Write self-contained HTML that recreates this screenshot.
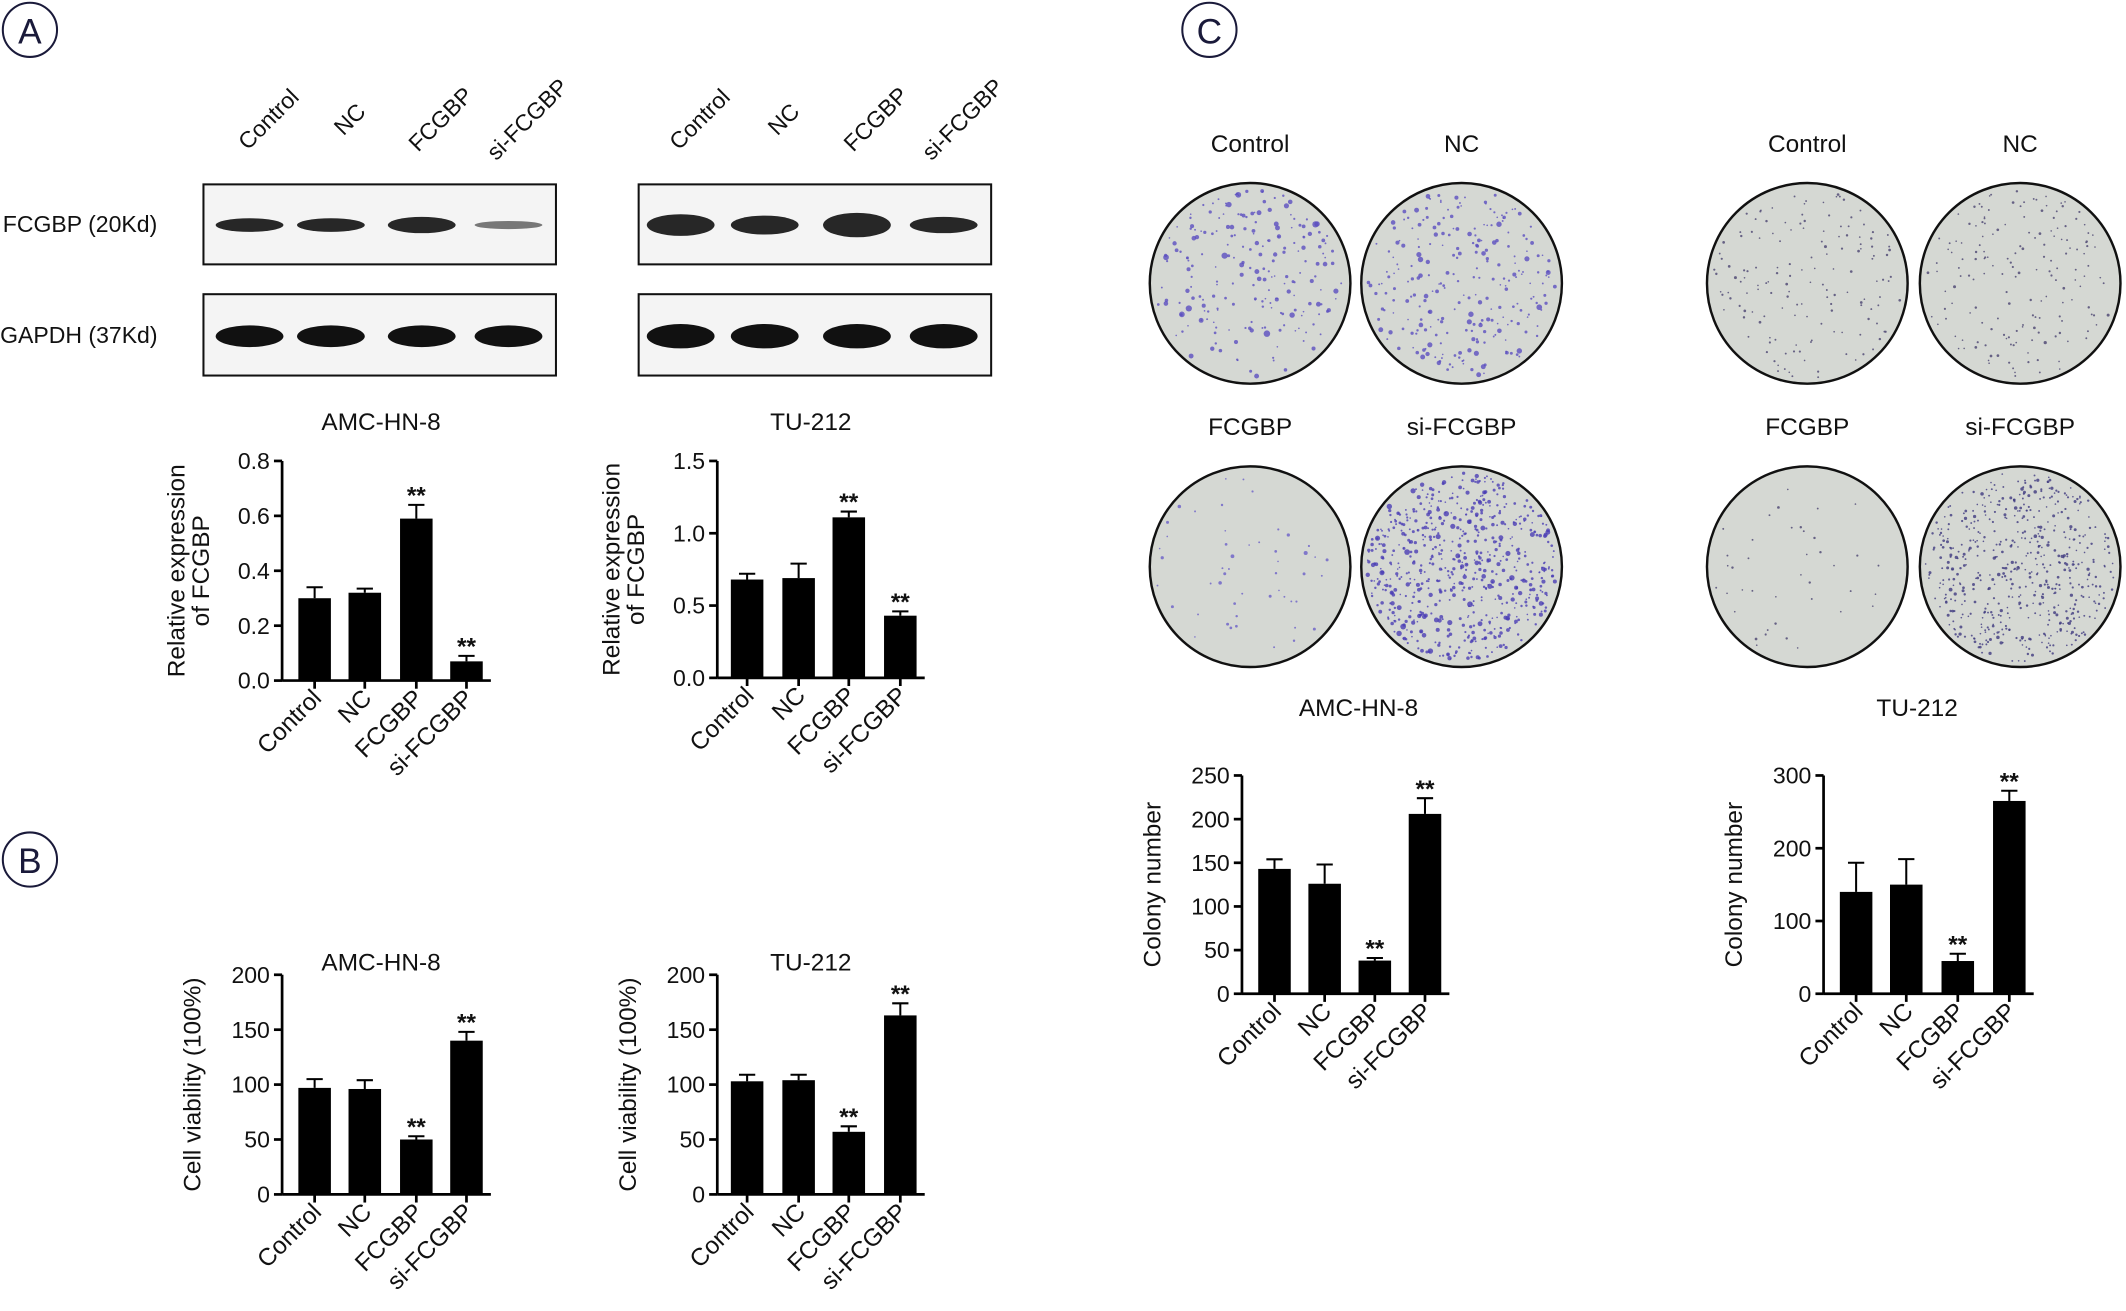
<!DOCTYPE html>
<html><head><meta charset="utf-8"><style>
html,body{margin:0;padding:0;background:#fff;}
svg{display:block;font-family:"Liberation Sans",Arial,sans-serif;}
</style></head><body>
<svg id="s" width="2126" height="1311" viewBox="0 0 1568 967" xmlns="http://www.w3.org/2000/svg">
<g fill="none" stroke="#1a1a3a" stroke-width="1.5">
<circle cx="22" cy="22" r="20"/><circle cx="22" cy="634" r="20"/><circle cx="892" cy="22" r="20"/>
</g>
<g font-size="26" fill="#1a1a3a" text-anchor="middle">
<text x="22" y="32">A</text><text x="22" y="644">B</text><text x="892" y="32">C</text>
</g>
<g font-size="17" fill="#111">
<text x="2" y="171">FCGBP (20Kd)</text>
<text x="0" y="253">GAPDH (37Kd)</text>
</g>
<g id="g"></g>
</svg>
<script>
var g=document.getElementById('g'),h='';
function T(x,y,t,fs,anc,rot,b){h+='<text x="'+x+'" y="'+y+'" font-size="'+(fs||17)+'" fill="#111" text-anchor="'+(anc||'middle')+'"'+(b?' font-weight="bold"':'')+(rot!=null?' transform="rotate('+rot+' '+x+' '+y+')"':'')+'>'+t+'</text>';}
function R(x,y,w,hh,f){h+='<rect x="'+x+'" y="'+y+'" width="'+w+'" height="'+hh+'" fill="'+(f||'#000')+'"/>';}
function L(a,b,c,d,w){h+='<line x1="'+a+'" y1="'+b+'" x2="'+c+'" y2="'+d+'" stroke="#000" stroke-width="'+(w||2)+'"/>';}
var labs=['Control','NC','FCGBP','si-FCGBP'];
function blot(x0,lan,fb,gb){
  for(var i=0;i<4;i++){T(lan[i]+18,92,labs[i],17,'middle',-45);}
  h+='<rect x="'+x0+'" y="136" width="260" height="59" fill="#f4f4f4" stroke="#111" stroke-width="1.5"/>';
  h+='<rect x="'+x0+'" y="217" width="260" height="60" fill="#f4f4f4" stroke="#111" stroke-width="1.5"/>';
  for(var i=0;i<4;i++){var c=lan[i];
   h+='<ellipse cx="'+c+'" cy="166" rx="25" ry="'+fb[i]+'" fill="#111" opacity="'+(fb[i]<4?0.55:0.9)+'"/>';
   h+='<ellipse cx="'+c+'" cy="248" rx="25" ry="'+gb[i]+'" fill="#111"/>';}
}
blot(150,[184,244,311,375],[5,5,6,3],[8,8,8,8]);
blot(471,[502,564,632,696],[8,7,9,6],[9,9,9,9]);
function chart(ax,y0,y1,max,ticks,dec,bx,vals,errs,stars,title,tx,ty,ylab){
  var sc=(y0-y1)/max;
  T(tx,ty,title,18);
  L(ax,y0,ax,y1);L(ax,y0,bx[3]+30,y0);
  for(var i=0;i<ticks.length;i++){var y=y0-ticks[i]*sc;L(ax-6,y,ax,y);T(ax-9,y+6,ticks[i].toFixed(dec),17,'end');}
  for(var i=0;i<4;i++){var x=bx[i],v=vals[i],top=y0-v*sc,et=y0-(v+errs[i])*sc;
    R(x,top,24,v*sc);L(x+12,top,x+12,et,1.5);L(x+6,et,x+18,et,1.5);
    L(x+12,y0,x+12,y0+6);
    if(stars[i])T(x+12,et-1,'**',18,'middle',null,1);
    h+='<text x="'+(x+18)+'" y="'+(y0+14)+'" font-size="18" fill="#111" text-anchor="end" transform="rotate(-45 '+(x+18)+' '+(y0+14)+')">'+labs[i]+'</text>';}
  for(var j=0;j<ylab.length;j++){var yx=ax-(ylab.length==2?(j==0?72:54):60);T(yx,(y0+y1)/2,ylab[j],18,'middle',-90);}
}
chart(208,502,340,0.8,[0,0.2,0.4,0.6,0.8],1,[220,257,295,332],[0.30,0.32,0.59,0.07],[0.04,0.015,0.05,0.02],[0,0,1,1],'AMC-HN-8',281,317,['Relative expression','of FCGBP']);
chart(529,500,340,1.5,[0,0.5,1.0,1.5],1,[539,577,614,652],[0.68,0.69,1.11,0.43],[0.04,0.1,0.04,0.03],[0,0,1,1],'TU-212',598,317,['Relative expression','of FCGBP']);
chart(208,881,719,200,[0,50,100,150,200],0,[220,257,295,332],[97,96,50,140],[8,8,3,8],[0,0,1,1],'AMC-HN-8',281,716,['Cell viability (100%)']);
chart(529,881,719,200,[0,50,100,150,200],0,[539,577,614,652],[103,104,57,163],[6,5,5,11],[0,0,1,1],'TU-212',598,716,['Cell viability (100%)']);
chart(916,733,572,250,[0,50,100,150,200,250],0,[928,965,1002,1039],[143,126,38,206],[11,22,3,18],[0,0,1,1],'AMC-HN-8',1002,528,['Colony number']);
chart(1345,733,572,300,[0,100,200,300],0,[1357,1394,1432,1470],[140,150,45,265],[40,35,10,14],[0,0,1,1],'TU-212',1414,528,['Colony number']);
var seed=7;function rnd(){seed=(seed*16807)%2147483647;return seed/2147483647;}
function dish(cx,cy,n,big,col,lab){
  T(cx,cy-97,lab,18);
  h+='<circle cx="'+cx+'" cy="'+cy+'" r="74" fill="#d5d8d3" stroke="#111" stroke-width="1.8"/>';
  for(var i=0;i<n;i++){var a=rnd()*6.283,r=Math.sqrt(rnd())*70;var rr=(rnd()*rnd()*big+0.6).toFixed(1);
    h+='<circle cx="'+(cx+r*Math.cos(a)).toFixed(1)+'" cy="'+(cy+r*Math.sin(a)).toFixed(1)+'" r="'+rr+'" fill="'+col+'" opacity="0.8"/>';}
}
dish(922,209,220,1.8,'#5b4fc0','Control');dish(1078,209,260,1.5,'#5b4fc0','NC');
dish(922,418,50,1.0,'#6a5fc8','FCGBP');dish(1078,418,650,1.6,'#4b3fb5','si-FCGBP');
dish(1333,209,150,0.6,'#4a4470','Control');dish(1490,209,170,0.6,'#4a4470','NC');
dish(1333,418,40,0.5,'#4a4470','FCGBP');dish(1490,418,550,0.8,'#3f3a80','si-FCGBP');
g.innerHTML=h;
</script>
</body></html>
